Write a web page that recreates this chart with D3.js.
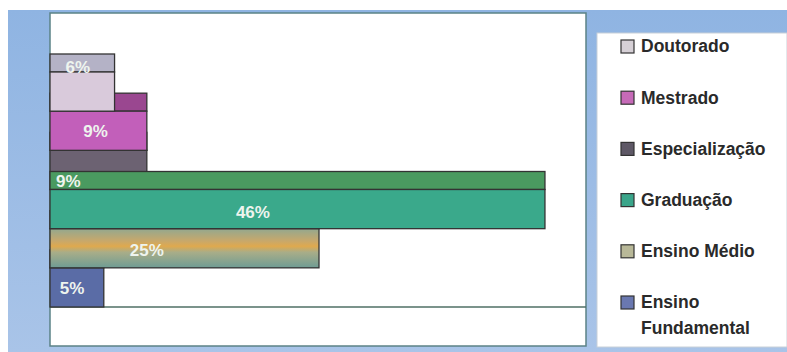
<!DOCTYPE html>
<html>
<head>
<meta charset="utf-8">
<script src="https://cdn.jsdelivr.net/npm/d3@7"></script>
<style>
  html, body { margin: 0; padding: 0; background: #fff; }
  svg { display: block; font-family: "Liberation Sans", Arial, sans-serif; }
</style>
</head>
<body>
<script>
// Escolaridade (percent)
let categories = ["Doutorado", "Mestrado", "Especialização", "Graduação", "Ensino Médio", "Ensino Fundamental"];
let values = [6, 9, 9, 46, 25, 5];
let labels = ["6%", "9%", "9%", "46%", "25%", "5%"];

let colors = {
  "Doutorado": "#d9cadb",
  "Mestrado": "#c25fba",
  "Especialização": "#6c6272",
  "Graduação": "#3aa98b",
  "Ensino Médio": "url(#medio)",
  "Ensino Fundamental": "#5a6ca6"
};
let topColors = {
  "Doutorado": "#b4b2c6",
  "Mestrado": "#9a4790",
  "Especialização": "#5e5664",
  "Graduação": "#4a9a60",
  "Ensino Médio": "#8fa48e",
  "Ensino Fundamental": "#4b5a8c"
};
let legendColors = {
  "Doutorado": "#d6d0d6",
  "Mestrado": "#c66ab8",
  "Especialização": "#5e5866",
  "Graduação": "#3aa58a",
  "Ensino Médio": "#b8b898",
  "Ensino Fundamental": "#6a78b0"
};

let width = 787, height = 352;
let depth = 18;

let svg = d3.select("body").append("svg")
  .attr("width", width)
  .attr("height", height);

let defs = svg.append("defs");
let bg = defs.append("linearGradient").attr("id", "bg")
  .attr("x1", 0).attr("y1", 0).attr("x2", 0).attr("y2", 1);
bg.append("stop").attr("offset", "0%").attr("stop-color", "#8fb4e2");
bg.append("stop").attr("offset", "100%").attr("stop-color", "#a9c4e8");

let medio = defs.append("linearGradient").attr("id", "medio")
  .attr("x1", 0).attr("y1", 0).attr("x2", 0).attr("y2", 1);
medio.append("stop").attr("offset", "0%").attr("stop-color", "#93a88f");
medio.append("stop").attr("offset", "32%").attr("stop-color", "#c9a86a");
medio.append("stop").attr("offset", "45%").attr("stop-color", "#dfa94e");
medio.append("stop").attr("offset", "60%").attr("stop-color", "#a9ad88");
medio.append("stop").attr("offset", "100%").attr("stop-color", "#6e9c94");

// blue frame
svg.append("rect")
  .attr("x", 8).attr("y", 10)
  .attr("width", width - 8).attr("height", height - 10)
  .attr("fill", "url(#bg)");

// plot area
svg.append("rect")
  .attr("x", 50).attr("y", 13)
  .attr("width", 536).attr("height", 333)
  .attr("fill", "#fff")
  .attr("stroke", "#5b8286")
  .attr("stroke-width", 1.5);

let x = d3.scaleLinear()
  .domain([0, 50])
  .range([50, 588]);

let y = d3.scaleBand()
  .domain(categories)
  .range([72, 307])
  .paddingInner(0);

// floor line
svg.append("line")
  .attr("x1", 50).attr("x2", 586)
  .attr("y1", y.range()[1]).attr("y2", y.range()[1])
  .attr("stroke", "#4f6f64")
  .attr("stroke-width", 1.5);

// draw lower bars first so upper faces overlap their tops
let order = ["Ensino Fundamental", "Ensino Médio", "Especialização", "Graduação", "Mestrado", "Doutorado"];
let bars = order.map(c => ({ cat: c, value: values[categories.indexOf(c)] }));

let g = svg.append("g");

let bar = g.selectAll(".bar")
  .data(bars)
  .enter().append("g")
  .attr("class", "bar");

bar.append("rect")
  .attr("x", x(0))
  .attr("y", d => y(d.cat) - depth)
  .attr("width", d => x(d.value) - x(0))
  .attr("height", depth)
  .attr("fill", d => topColors[d.cat])
  .attr("stroke", "#333")
  .attr("stroke-width", 1.3);

bar.append("rect")
  .attr("x", x(0))
  .attr("y", d => y(d.cat))
  .attr("width", d => x(d.value) - x(0))
  .attr("height", y.bandwidth())
  .attr("fill", d => colors[d.cat])
  .attr("stroke", "#333")
  .attr("stroke-width", 1.3);

// data labels (placement as in the original)
let labelPos = {
  "Doutorado": [0.43, -25],
  "Mestrado": [0.47, 0],
  "Especialização": [0.19, 11],
  "Graduação": [0.41, 3],
  "Ensino Médio": [0.36, 2],
  "Ensino Fundamental": [0.41, 0]
};

g.selectAll(".lbl")
  .data(categories)
  .enter().append("text")
  .attr("class", "lbl")
  .attr("x", d => x(0) + (x(values[categories.indexOf(d)]) - x(0)) * labelPos[d][0])
  .attr("y", d => y(d) + y.bandwidth() / 2 + labelPos[d][1])
  .attr("dy", "0.36em")
  .attr("text-anchor", "middle")
  .attr("fill", "#eef4ee")
  .attr("font-size", 17)
  .attr("font-weight", "bold")
  .text((d, i) => labels[i]);

// legend
svg.append("rect")
  .attr("x", 597).attr("y", 33)
  .attr("width", 190).attr("height", 314)
  .attr("fill", "#fff")
  .attr("stroke", "#c8d0d8")
  .attr("stroke-width", 1);

let legendY = d3.scalePoint()
  .domain(categories)
  .range([46, 302]);

let item = svg.selectAll(".legend")
  .data(categories)
  .enter().append("g")
  .attr("class", "legend")
  .attr("transform", d => "translate(621," + legendY(d) + ")");

item.append("rect")
  .attr("x", 0).attr("y", -6)
  .attr("width", 13).attr("height", 13)
  .attr("fill", d => legendColors[d])
  .attr("stroke", "#333")
  .attr("stroke-width", 1.2);

item.append("text")
  .attr("x", 20)
  .attr("fill", "#2a2a2a")
  .attr("font-family", "'Liberation Sans Narrow', 'Liberation Sans', Arial, sans-serif")
  .attr("font-size", 17.5)
  .attr("font-weight", "bold")
  .each(function(d) {
    let words = d === "Ensino Fundamental" ? ["Ensino", "Fundamental"] : [d];
    d3.select(this).selectAll("tspan")
      .data(words)
      .enter().append("tspan")
      .attr("x", 20)
      .attr("dy", (w, i) => i === 0 ? "0.36em" : "1.45em")
      .text(w => w);
  });
</script>
</body>
</html>
